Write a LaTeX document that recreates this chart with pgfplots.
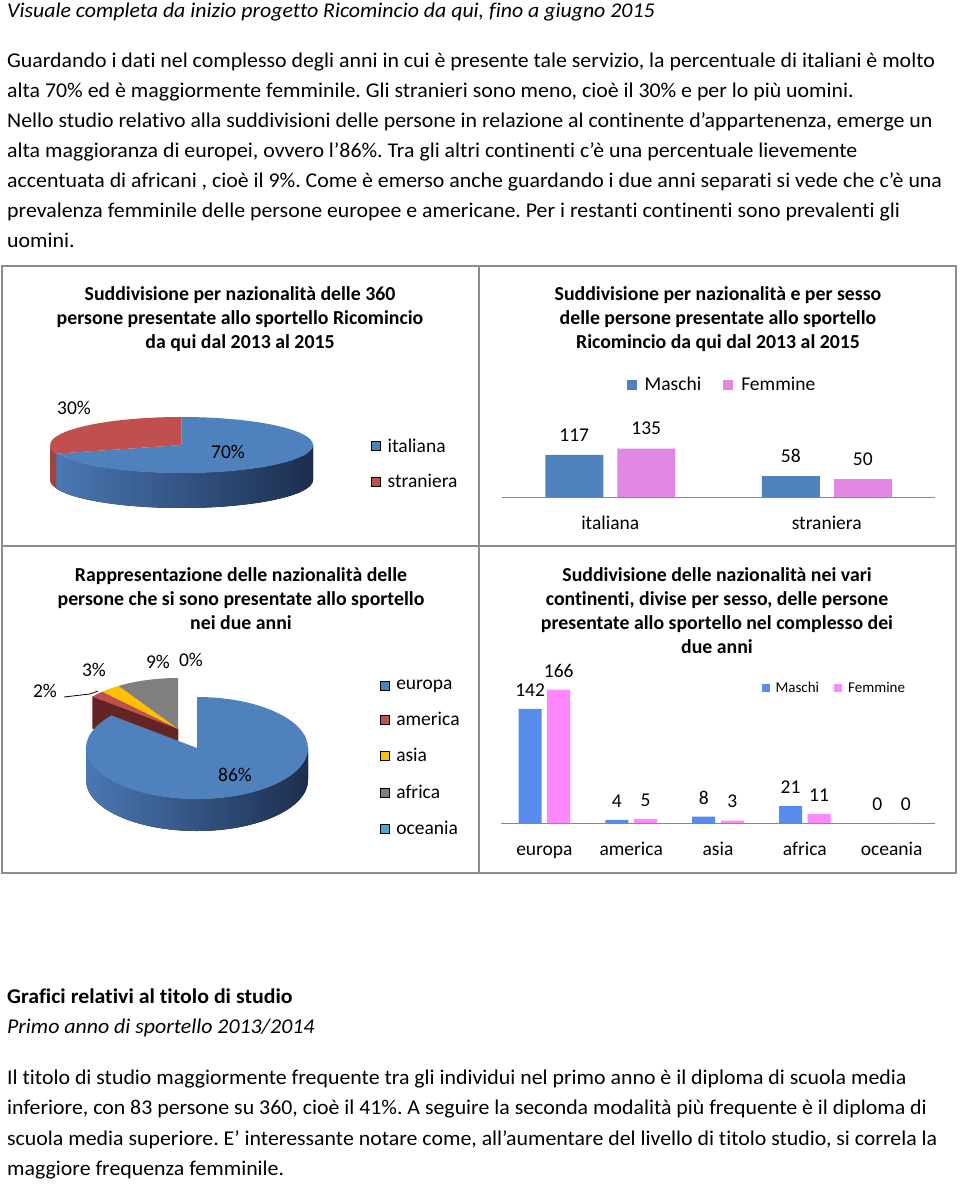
\documentclass[border=0pt]{standalone}
\usepackage{pgfplots}
\pgfplotsset{compat=1.18}
\usepackage{pgfplotstable}
\usepackage{fontspec}
\setmainfont{Carlito}[Ligatures=NoCommon]
\newfontfamily\bodyfam{Carlito}[FakeStretch=1.04,Ligatures=NoCommon]
\usetikzlibrary{calc}
\frenchspacing

\definecolor{frame}{RGB}{140,140,140}
\definecolor{axisgray}{RGB}{134,134,134}
\definecolor{mblue}{RGB}{79,129,189}
\definecolor{fpink}{RGB}{224,136,228}
\definecolor{mblue2}{RGB}{88,140,236}
\definecolor{fpink2}{RGB}{255,136,255}
\definecolor{pred}{RGB}{192,80,77}
\definecolor{predd}{RGB}{99,37,35}
\definecolor{predside}{RGB}{160,66,62}
\definecolor{pyel}{RGB}{255,192,0}
\definecolor{pyeld}{RGB}{150,110,0}
\definecolor{pgray}{RGB}{127,127,127}
\definecolor{pgrayd}{RGB}{55,55,55}
\definecolor{pcyan}{RGB}{75,172,198}
\definecolor{sidel}{RGB}{74,120,180}
\definecolor{sider}{RGB}{28,46,78}

\newcommand\bodyfont{\bodyfam\fontsize{21}{24}\selectfont}
\newcommand\titfont{\fontsize{19.8}{23}\selectfont\bfseries}
\newcommand\chartfont{\fontsize{19.5}{22}\selectfont}

\pgfplotsset{
  sq/.style={legend image code/.code={\fill[##1] (0pt,-4.5pt) rectangle (9pt,4.5pt);}},
  sqten/.style={legend image code/.code={\fill[##1] (0pt,-5pt) rectangle (10pt,5pt);}},
  sqeight/.style={legend image code/.code={\fill[##1] (0pt,-4pt) rectangle (8pt,4pt);}},
}

% pie drawing helpers: cx cy rx ry a1 a2 style [depth]
\newcommand\pietop[7]{\fill[#7] (axis cs:#1,#2) -- ($(axis cs:#1,#2)+(#5:#3pt and #4pt)$) arc[start angle=#5,end angle=#6,x radius=#3pt,y radius=#4pt] -- cycle;}
\newcommand\pieside[8]{\fill[#7] ($(axis cs:#1,#2)+(#5:#3pt and #4pt)$) arc[start angle=#5,end angle=#6,x radius=#3pt,y radius=#4pt] -- ++(0pt,-#8pt) arc[start angle=#6,end angle=#5,x radius=#3pt,y radius=#4pt] -- cycle;}
\newcommand\piecut[7]{\fill[#6] (axis cs:#1,#2) -- ($(axis cs:#1,#2)+(#5:#3pt and #4pt)$) -- ++(0pt,-#7pt) -- ($(axis cs:#1,#2)+(0pt,-#7pt)$) -- cycle;}

\pgfplotstableread{
cat M F
1 117 135
2 58 50
}\natsex

\pgfplotstableread{
cat M F
1 142 166
2 4 5
3 8 3
4 21 11
5 0 0
}\contsex

\pgfplotstableread{
name pct
italiana 70
straniera 30
}\pieA

\pgfplotstableread{
name pct
europa 86
america 2
asia 3
africa 9
oceania 0
}\pieB

\begin{document}
\begin{tikzpicture}
\path[use as bounding box] (0,0) rectangle (960pt,-1184pt);

\pgfplotstablegetelem{0}{pct}\of\pieA \let\pIta\pgfplotsretval
\pgfplotstablegetelem{1}{pct}\of\pieA \let\pStr\pgfplotsretval
\pgfplotstablegetelem{0}{pct}\of\pieB \let\pEu\pgfplotsretval
\pgfplotstablegetelem{1}{pct}\of\pieB \let\pAm\pgfplotsretval
\pgfplotstablegetelem{2}{pct}\of\pieB \let\pAs\pgfplotsretval
\pgfplotstablegetelem{3}{pct}\of\pieB \let\pAf\pgfplotsretval
\pgfmathsetmacro\aIta{90-3.6*\pIta}
\pgfmathsetmacro\aStr{\aIta-3.6*\pStr}
\pgfmathsetmacro\aEu{90-3.6*\pEu}
\pgfmathsetmacro\aAm{\aEu-3.6*\pAm}
\pgfmathsetmacro\aAs{\aAm-3.6*\pAs}
\pgfmathsetmacro\aAf{\aAs-3.6*\pAf}

\begin{scope}[x=1pt,y=-1pt]
\draw[frame, line width=1.5pt] (2,266) rectangle (956,873);
\draw[frame, line width=1.5pt] (2,546) -- (956,546);
\draw[frame, line width=1.5pt] (479,266) -- (479,873);

\node[anchor=base west, inner sep=0, font=\bodyfont\itshape] at (7,17) {Visuale completa da inizio progetto Ricomincio da qui, fino a giugno 2015};
\begin{scope}[every node/.style={anchor=base west, inner sep=0, font=\bodyfont}]
\node at (7,67) {Guardando i dati nel complesso degli anni in cui è presente tale servizio, la percentuale di italiani è molto};
\node at (7,97) {alta 70\% ed è maggiormente femminile. Gli stranieri sono meno, cioè il 30\% e per lo più uomini.};
\node at (7,127) {Nello studio relativo alla suddivisioni delle persone in relazione al continente d’appartenenza, emerge un};
\node at (7,157) {alta maggioranza di europei, ovvero l’86\%. Tra gli altri continenti c’è una percentuale lievemente};
\node at (7,187) {accentuata di africani , cioè il 9\%. Come è emerso anche guardando i due anni separati si vede che c’è una};
\node at (7,217) {prevalenza femminile delle persone europee e americane. Per i restanti continenti sono prevalenti gli};
\node at (7,247) {uomini.};
\node[font=\bodyfont\bfseries] at (7,1003) {Grafici relativi al titolo di studio};
\node[font=\bodyfont\itshape] at (7,1033) {Primo anno di sportello 2013/2014};
\node at (7,1084) {Il titolo di studio maggiormente frequente tra gli individui nel primo anno è il diploma di scuola media};
\node at (7,1114) {inferiore, con 83 persone su 360, cioè il 41\%. A seguire la seconda modalità più frequente è il diploma di};
\node at (7,1145) {scuola media superiore. E’ interessante notare come, all’aumentare del livello di titolo studio, si correla la};
\node at (7,1175) {maggiore frequenza femminile.};
\end{scope}

\begin{scope}[every node/.style={anchor=base, inner sep=0, font=\titfont}]
\node at (240,300) {Suddivisione per nazionalità delle 360};
\node at (240,324) {persone presentate allo sportello Ricomincio};
\node at (240,348) {da qui dal 2013 al 2015};
\node at (718,300) {Suddivisione per nazionalità e per sesso};
\node at (718,324) {delle persone presentate allo sportello};
\node at (718,348) {Ricomincio da qui dal 2013 al 2015};
\node at (241,581) {Rappresentazione delle nazionalità delle};
\node at (241,605) {persone che si sono presentate allo sportello};
\node at (241,629) {nei due anni};
\node at (717,581) {Suddivisione delle nazionalità nei vari};
\node at (717,605) {continenti, divise per sesso, delle persone};
\node at (717,629) {presentate allo sportello nel complesso dei};
\node at (717,653) {due anni};
\end{scope}
\end{scope}

% ---------- Pie 1 (top left) ----------
\begin{axis}[at={(0pt,-1184pt)}, anchor=south west, scale only axis,
  width=960pt, height=1184pt, xmin=0, xmax=960, ymin=-1184, ymax=0,
  hide axis, clip=false, legend cell align=left,
  legend style={at={(0.3865,0.6081)}, anchor=west, draw=none, fill=none,
    font=\chartfont, row sep=17pt, inner sep=0pt,
    /tikz/every odd column/.style={column sep=5pt}}]
\addlegendimage{sq, fill=mblue}\addlegendentry{italiana}
\addlegendimage{sq, fill=pred}\addlegendentry{straniera}
\pieside{181.5}{-445}{131.5}{28}{\aIta}{0}{left color=sidel, right color=sider}{35}
\pieside{181.5}{-445}{131.5}{28}{-180}{\aIta}{fill=predside}{35}
\pietop{181.5}{-445}{131.5}{28}{90}{\aIta}{fill=mblue}
\pietop{181.5}{-445}{131.5}{28}{\aIta}{\aStr}{fill=pred}
\node[font=\chartfont] at (axis cs:74,-408) {30\%};
\node[font=\chartfont] at (axis cs:228,-452) {70\%};
\end{axis}

% ---------- Pie 2 (bottom left) ----------
\begin{axis}[at={(0pt,-1184pt)}, anchor=south west, scale only axis,
  width=960pt, height=1184pt, xmin=0, xmax=960, ymin=-1184, ymax=0,
  hide axis, clip=false, legend cell align=left,
  legend style={at={(0.3955,0.3598)}, anchor=west, draw=none, fill=none,
    font=\chartfont, row sep=17.4pt, inner sep=0pt,
    /tikz/every odd column/.style={column sep=5pt}}]
\addlegendimage{sq, fill=mblue}\addlegendentry{europa}
\addlegendimage{sq, fill=pred}\addlegendentry{america}
\addlegendimage{sq, fill=pyel}\addlegendentry{asia}
\addlegendimage{sq, fill=pgray}\addlegendentry{africa}
\addlegendimage{sq, fill=pcyan}\addlegendentry{oceania}
% exploded small slices
\piecut{178}{-729}{111}{51}{\aAs}{fill=pgrayd}{32}
\pietop{178}{-729}{111}{51}{\aAs}{\aAf}{fill=pgray}
\piecut{178}{-729}{111}{51}{\aAm}{fill=pyeld}{32}
\pietop{178}{-729}{111}{51}{\aAm}{\aAs}{fill=pyel}
\piecut{178}{-729}{111}{51}{\aEu}{fill=predd}{32}
\pietop{178}{-729}{111}{51}{\aEu}{\aAm}{fill=pred}
% europa
\pieside{197}{-748}{111}{51}{-180}{0}{left color=sidel, right color=sider}{32}
\pietop{197}{-748}{111}{51}{90}{\aEu}{fill=mblue}
\draw[black, line width=0.8pt] (axis cs:64,-697) -- (axis cs:90,-694) -- (axis cs:98,-691);
\node[font=\chartfont] at (axis cs:45,-691) {2\%};
\node[font=\chartfont] at (axis cs:94,-670) {3\%};
\node[font=\chartfont] at (axis cs:158,-662) {9\%};
\node[font=\chartfont] at (axis cs:191,-660) {0\%};
\node[font=\chartfont] at (axis cs:235,-775) {86\%};
\end{axis}

% ---------- Bar chart (top right) ----------
\begin{axis}[at={(502pt,-497pt)}, anchor=south west, scale only axis,
  width=433pt, height=97pt, xmin=0.5, xmax=2.5, ymin=0, ymax=270,
  ybar, axis y line=none, axis x line*=bottom,
  x axis line style={draw=axisgray, line width=1pt, -},
  xtick={1,2}, xticklabels={italiana,straniera}, major tick length=0pt,
  xticklabel style={font=\chartfont, anchor=base, yshift=-32pt},
  /pgf/number format/assume math mode=true,
  nodes near coords,
  every node near coord/.append style={font=\chartfont, anchor=center, yshift=20pt, text=black},
  clip=false, enlargelimits=false,
  legend style={at={(0.508,1.155)}, anchor=center, legend columns=2, draw=none, fill=none,
    font=\chartfont, /tikz/every odd column/.style={column sep=6pt},
    /tikz/every even column/.style={column sep=20pt}}]
\addplot[fill=mblue, draw=none, bar width=58pt, bar shift=-36pt, sqten] table[x=cat,y=M]{\natsex};
\addlegendentry{Maschi}
\addplot[fill=fpink, draw=none, bar width=58pt, bar shift=36pt, sqten] table[x=cat,y=F]{\natsex};
\addlegendentry{Femmine}
\end{axis}

% ---------- Bar chart (bottom right) ----------
\begin{axis}[at={(501pt,-823pt)}, anchor=south west, scale only axis,
  width=434pt, height=150pt, xmin=0.5, xmax=5.5, ymin=0, ymax=186.8,
  ybar, axis y line=none, axis x line*=bottom,
  x axis line style={draw=axisgray, line width=1pt, -},
  xtick={1,2,3,4,5}, xticklabels={europa,america,asia,africa,oceania}, major tick length=0pt,
  xticklabel style={font=\chartfont, anchor=base, yshift=-32pt},
  /pgf/number format/assume math mode=true,
  nodes near coords,
  every node near coord/.append style={font=\chartfont, anchor=center, yshift=19pt, text=black},
  clip=false, enlargelimits=false,
  legend style={at={(0.768,0.9)}, anchor=center, legend columns=2, draw=none, fill=none,
    font=\fontsize{15}{18}\selectfont, /tikz/every odd column/.style={column sep=4pt},
    /tikz/every even column/.style={column sep=13pt}}]
\addplot[fill=mblue2, draw=none, bar width=23pt, bar shift=-14.3pt, sqeight] table[x=cat,y=M]{\contsex};
\addlegendentry{Maschi}
\addplot[fill=fpink2, draw=none, bar width=23pt, bar shift=14.3pt, sqeight] table[x=cat,y=F]{\contsex};
\addlegendentry{Femmine}
\end{axis}
\end{tikzpicture}
\end{document}
